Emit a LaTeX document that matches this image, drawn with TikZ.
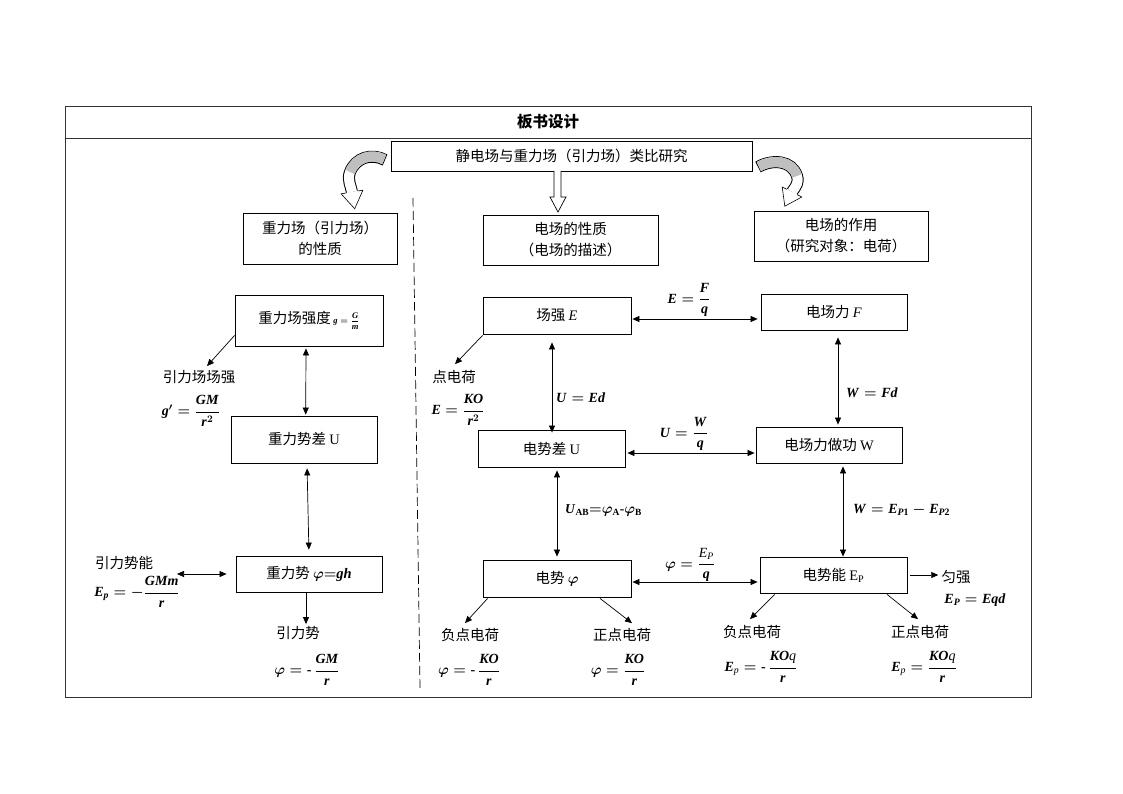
\documentclass[tikz,border=0pt]{standalone}
\usepackage{amsmath}
\usepackage{fontspec}
\setmainfont{Liberation Serif}
\newfontfamily\cjk{Noto Sans CJK SC}
\usetikzlibrary{arrows.meta,calc}
\newcommand{\bv}[1]{\textbf{\textit{#1}}}
\begin{document}
\begin{tikzpicture}[x=1pt,y=-1pt,
  bx/.style={draw, line width=0.8pt, inner sep=1pt, align=center, font=\cjk\fontsize{14.5}{21}\selectfont},
  lbl/.style={inner sep=0pt, font=\cjk\fontsize{14.5}{17}\selectfont},
  fml/.style={inner sep=0pt, font=\rmfamily\boldmath\fontsize{14}{16}\selectfont},
  tip/.tip={Triangle[length=7pt,width=6pt]},
  dbl/.style={tip-tip, line width=0.7pt},
  sgl/.style={-tip, line width=0.7pt},
  band/.style={line width=#1, line cap=butt},
  frame/.style={line width=0.9pt, draw=black!80}
]
\useasboundingbox (0,0) rectangle (1123,794);
\fill[white] (0,0) rectangle (1123,794);

% frame and title
\draw[frame] (65,106) rectangle (1031,697);
\draw[frame] (65,138) -- (1031,138);
\node[inner sep=0pt, font=\cjk\bfseries\fontsize{15.5}{17}\selectfont] (title) at (548,122) {板书设计};

% boxes
\node[bx, minimum width=361, minimum height=30] (top) at (571.5,156) {静电场与重力场（引力场）类比研究};
\node[bx, minimum width=154, minimum height=51] (gprop) at (320,238.5) {重力场（引力场）\\的性质};
\node[bx, minimum width=175, minimum height=50] (eprop) at (570.5,240) {电场的性质\\（电场的描述）};
\node[bx, minimum width=174, minimum height=50] (eact) at (841,236) {电场的作用\\（研究对象：电荷）};

\node[bx, minimum width=148, minimum height=51] (gE) at (309,320.5) {重力场强度\,{\rmfamily\fontsize{8.5}{9}\selectfont\boldmath$\bv{g}=\dfrac{\bv{G}}{\bv{m}}$}};
\node[bx, minimum width=146, minimum height=47] (gU) at (304,439.5) {重力势差 {\rmfamily U}};
\node[bx, minimum width=146, minimum height=36] (gphi) at (309,574) {重力势 {\rmfamily\boldmath$\varphi{=}\bv{gh}$}};

\node[bx, minimum width=148, minimum height=37] (E) at (557,315.5) {场强 {\rmfamily\itshape E}};
\node[bx, minimum width=146, minimum height=36] (F) at (834,312) {电场力 {\rmfamily\itshape F}};
\node[bx, minimum width=147, minimum height=37] (U) at (551.5,448.5) {电势差 {\rmfamily U}};
\node[bx, minimum width=146, minimum height=36] (W) at (829,445) {电场力做功 {\rmfamily W}};
\node[bx, minimum width=148, minimum height=37] (phi) at (557,578.5) {电势 {\rmfamily\boldmath$\varphi$}};
\node[bx, minimum width=147, minimum height=36] (Ep) at (833.5,575) {电势能 {\rmfamily E$_{\mathrm{P}}$}};

% labels (left)
\node[lbl] (lg1) at (199,377) {引力场场强};
\node[fml] (fg1) at (191,411) {$\bv{g}'=\dfrac{\bv{GM}}{\bv{r}^{2}}$};
\node[lbl] (lg2) at (124,563) {引力势能};
\node[fml] (fg2) at (137,592) {$\bv{E}_{\bv{p}}=-\dfrac{\bv{GMm}}{\bv{r}}$};
\node[lbl] (lg3) at (298,633) {引力势};
\node[fml] (fg3) at (307,670) {$\varphi=\textbf{-}\,\dfrac{\bv{GM}}{\bv{r}}$};

% labels (middle/right)
\node[lbl] (le1) at (454,377) {点电荷};
\node[fml] (fe1) at (458,410) {$\bv{E}=\dfrac{\bv{KO}}{\bv{r}^{2}}$};
\node[lbl] (lphiN) at (470,635) {负点电荷};
\node[fml] (fphiN) at (469,670) {$\varphi=\textbf{-}\,\dfrac{\bv{KO}}{\bv{r}}$};
\node[lbl] (lphiP) at (622,635) {正点电荷};
\node[fml] (fphiP) at (618,670) {$\varphi=\dfrac{\bv{KO}}{\bv{r}}$};
\node[lbl] (lEpN) at (752,632) {负点电荷};
\node[fml] (fEpN) at (761,667) {$\bv{E}_{\textit{p}}=\textbf{-}\,\dfrac{\bv{KO}\textit{q}}{\bv{r}}$};
\node[lbl] (lEpP) at (920,632) {正点电荷};
\node[fml] (fEpP) at (924,667) {$\bv{E}_{\textit{p}}=\dfrac{\bv{KO}\textit{q}}{\bv{r}}$};
\node[lbl] (lU) at (956,577) {匀强};
\node[fml] (fU) at (975,600) {$\bv{E}_{\bv{P}}=\bv{Eqd}$};

% connector labels
\node[fml] (tEF) at (689,300) {$\bv{E}=\dfrac{\bv{F}}{\bv{q}}$};
\node[fml] (tUW) at (684,434) {$\bv{U}=\dfrac{\bv{W}}{\bv{q}}$};
\node[fml] (tPE) at (690,565) {$\varphi=\dfrac{\textit{E}_{\textit{P}}}{\bv{q}}$};
\node[fml, anchor=west] (tUE) at (556,398) {$\bv{U}=\bv{Ed}$};
\node[fml, anchor=west] (tWF) at (846,393) {$\bv{W}=\bv{Fd}$};
\node[fml, anchor=west, font=\rmfamily\boldmath\fontsize{13.5}{15}\selectfont] (tUAB) at (565,510) {$\bv{U}_{\textbf{AB}}{=}\varphi_{\textbf{A}}\textbf{-}\varphi_{\textbf{B}}$};
\node[fml, anchor=west] (tWE) at (853,510) {$\bv{W}=\bv{E}_{\bv{P}\textbf{1}}-\bv{E}_{\bv{P}\textbf{2}}$};

% hollow arrow
\draw[line width=0.7pt, fill=white] (554,171) -- (554,197) -- (550,197) -- (558,212) -- (566,197) -- (561,197) -- (561,171);

% curved arrow left
\draw[band=12pt] (385,160) .. controls (372,153) and (356,157) .. (350,172) .. controls (347,180) and (351,186) .. (352,192);
\draw[band=10pt, white, shorten <=1pt] (385,160) .. controls (372,153) and (356,157) .. (350,172) .. controls (347,180) and (351,186) .. (352,192);
\draw[band=10pt, black!25, shorten <=1pt] (385,160) .. controls (372,153) and (356,157) .. (350,172);
\fill[white] (341.1,193.8) -- (354.7,208.8) -- (362.9,190.2) -- cycle;
\draw[line width=0.6pt, line join=miter] (346.1,193) -- (341.1,193.8) -- (354.7,208.8) -- (362.9,190.2) -- (357.9,191);

% curved arrow right
\draw[band=12pt] (758,167) .. controls (772,159) and (792,160) .. (797,176) .. controls (799,183) and (796,186) .. (792,192);
\draw[band=10pt, white, shorten <=1pt] (758,167) .. controls (772,159) and (792,160) .. (797,176) .. controls (799,183) and (796,186) .. (792,192);
\draw[band=10pt, black!25, shorten <=1pt] (758,167) .. controls (772,159) and (792,160) .. (797,176);
\fill[white] (801.8,197) -- (784.8,206.2) -- (782.2,187) -- cycle;
\draw[line width=0.6pt, line join=miter] (797.3,194.7) -- (801.8,197) -- (784.8,206.2) -- (782.2,187) -- (786.7,189.3);

% dashed divider
\draw[line width=0.7pt, dash pattern=on 9pt off 4pt] (413,198) -- (420,688);

% left column connectors
\draw[dbl, shorten <=2pt, shorten >=1pt] ($(gE.south)+(-3,0)$) -- ($(gU.north)+(1.7,0)$);
\draw[dbl, shorten <=5pt, shorten >=6pt] ($(gU.south)+(3,0)$) -- (gphi.north);
\coordinate (gpl) at (177,574);
\draw[dbl, shorten >=9pt] (gpl) -- (gphi.west);
\draw[sgl] ($(gE.south west)+(0,-11)$) -- ($(lg1.north)+(8,-4)$);
\draw[sgl, shorten >=2pt] ($(gphi.south)+(-3,0)$) coordinate (s1) -- (s1 |- lg3.north);

% middle/right connectors
\draw[dbl, shorten <=1pt, shorten >=3pt] ($(E.east)+(0,3.5)$) -- ($(F.west)+(0,7)$);
\draw[dbl, shorten <=2pt, shorten >=1pt] ($(U.east)+(0,4.5)$) -- ($(W.west)+(0,8)$);
\draw[dbl, shorten <=1pt, shorten >=2pt] ($(phi.east)+(0,3.5)$) -- ($(Ep.west)+(0,7)$);
\draw[dbl, shorten <=8pt, shorten >=-3pt] ($(E.south)+(-5,0)$) -- ($(U.north)+(0.5,0)$);
\draw[dbl, shorten <=7pt, shorten >=2pt] ($(F.south)+(4,0)$) -- ($(W.north)+(9,0)$);
\draw[dbl, shorten <=3pt, shorten >=3pt] ($(U.south)+(5.5,0)$) -- (phi.north);
\draw[dbl, shorten <=3pt] ($(W.south)+(14,0)$) -- ($(Ep.north)+(9.5,0)$);

\draw[sgl] ($(E.south west)+(0,1)$) -- ($(le1.north)+(1,-6)$);
\draw[sgl] ($(phi.south west)+(5,1)$) -- ($(lphiN.north)+(-5,-5)$);
\draw[sgl] ($(phi.south)+(43,1)$) -- ($(lphiP.north)+(10,-5)$);
\draw[sgl] ($(Ep.south west)+(15,1)$) -- ($(lEpN.north)+(-2,-6)$);
\draw[sgl] ($(Ep.south)+(53.5,1)$) -- ($(lEpP.north)+(-2,-6)$);
\draw[sgl, shorten <=3pt, shorten >=3pt] (Ep.east) -- (lU.west |- Ep.east);
\end{tikzpicture}
\end{document}
